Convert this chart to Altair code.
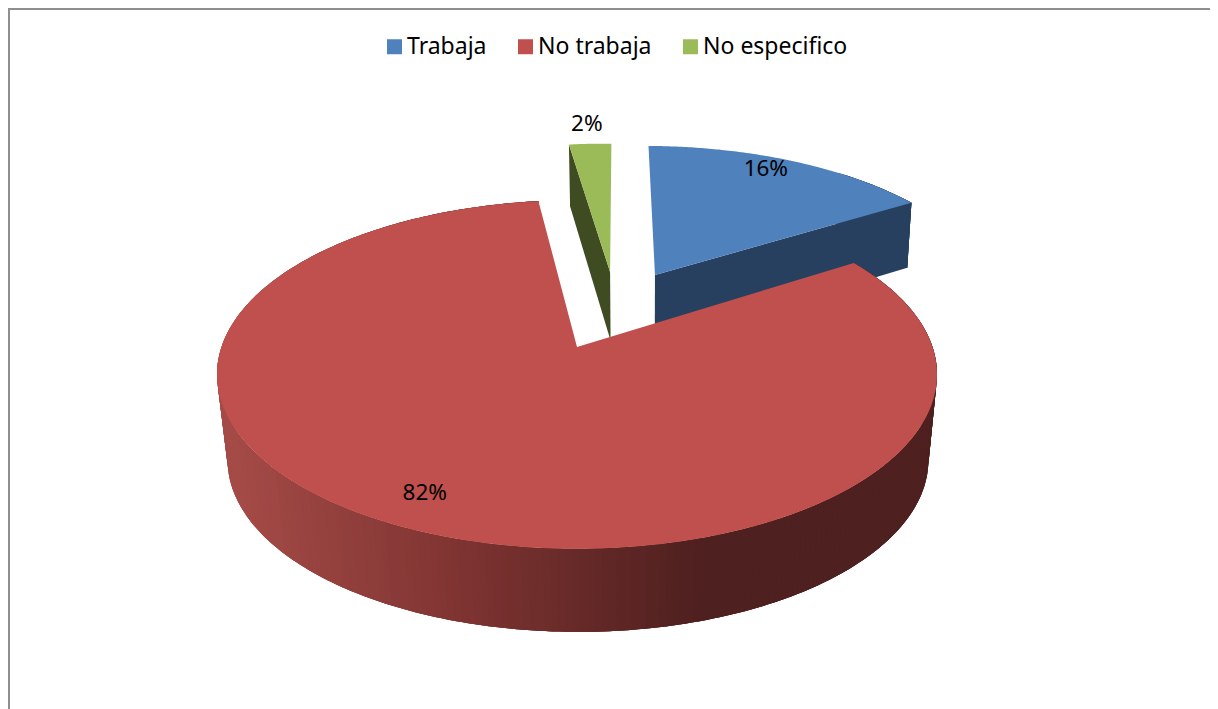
import math
import altair as alt

# ---- chart values ----
categories = ["Trabaja", "No trabaja", "No especifico"]
shares = [16, 82, 2]
labels = ["16%", "82%", "2%"]
top_colors = ["#4F81BD", "#C0504D", "#9BBB59"]
side_colors = ["#27405F", None, "#3F4C22"]
frame_color = "#8F8F8F"

# ---- 3D pie camera (page pixels) ----
CX, CY = 577.0, 347.0
PAGE = 8.0
TOP_K, TOP_B, PERSP = 355.5, 170.0, 0.1575
# explode offset (u, v), rotation (deg), leading-edge extension (deg), bottom plane (k, b, drop),
# first visible rim angle, label radius and label angle shift
slice_geo = {
    "Trabaja": dict(off=(0.235, 0.4537), rot=0.7, ext=0.0, bottom=(350.0, 167.6, 72.5), rim_from=40.0, lab=0.90, lab_deg=-3.0),
    "No trabaja": dict(off=(0.0, 0.0), rot=0.0, ext=0.0, bottom=(346.0, 154.0, 86.0), rim_from=0.0, lab=0.84, lab_deg=1.5),
    "No especifico": dict(off=(0.10, 0.474), rot=1.1, ext=1.25, bottom=(350.0, 167.6, 72.5), rim_from=None, lab=1.19, lab_deg=0.0),
}
shade_stops = [(228, (165, 75, 71)), (465, (125, 51, 49)), (700, (78, 32, 31)), (930, (78, 32, 31))]
BAND = 8
STEP = 1.0      # rim strip width, degrees
OVERLAP = 2.0   # each strip runs under the next one, so no seam shows


def top_pt(u, v):
    d = 1 + PERSP * v
    return [CX + TOP_K * u / d - PAGE, CY - TOP_B * v / d - PAGE]


def bot_pt(u, v, bottom):
    k, b, drop = bottom
    d = 1 + PERSP * v
    return [CX + 1 + k * u / d - PAGE, CY - (b * v - drop) / d - PAGE]


def rim(off, deg):
    a = math.radians(deg)
    return off[0] + math.sin(a), off[1] + math.cos(a)


def shade(x):
    x = round((x + PAGE) / BAND) * BAND
    if x <= shade_stops[0][0]:
        return "#%02x%02x%02x" % shade_stops[0][1]
    for (x0, c0), (x1, c1) in zip(shade_stops, shade_stops[1:]):
        if x <= x1:
            t = (x - x0) / (x1 - x0)
            return "#%02x%02x%02x" % tuple(round(p + (q - p) * t) for p, q in zip(c0, c1))
    return "#%02x%02x%02x" % shade_stops[-1][1]


def poly(points):
    return {"type": "Polygon", "coordinates": [points + [points[0]]]}


top_features, side_features, label_rows = [], [], []
start = 0.0
for cat, share, lab, tc, sc in zip(categories, shares, labels, top_colors, side_colors):
    geo = slice_geo[cat]
    a0 = start * 3.6 + geo["rot"] - geo["ext"]
    a1 = (start + share) * 3.6 + geo["rot"]
    start += share
    off, bottom = geo["off"], geo["bottom"]
    n = max(8, int((a1 - a0) / 0.5))
    degs = [a0 + (a1 - a0) * i / n for i in range(n + 1)]

    # top face
    arc = [top_pt(*rim(off, d)) for d in degs]
    top_features.append({"type": "Feature", "cat": cat, "geometry": poly([top_pt(*off)] + arc)})

    # walls
    if cat == "Trabaja":
        e = rim(off, a1)
        side_features.append({"type": "Feature", "col": sc, "geometry": poly(
            [top_pt(*off), top_pt(*e), bot_pt(*e, bottom), bot_pt(*off, bottom)])})
    if cat == "No especifico":
        e = rim(off, a0)
        side_features.append({"type": "Feature", "col": sc, "geometry": poly(
            [top_pt(*off), top_pt(*e), bot_pt(*e, bottom), bot_pt(*off, bottom)])})

    # outer rim, painted strip over strip
    if geo["rim_from"] is not None:
        d = max(a0, geo["rim_from"])
        while d < a1:
            d1 = min(d + STEP, a1)
            fan = [d + (min(d1 + OVERLAP, a1) - d) * i / 3 for i in range(4)]
            upper = [top_pt(*rim(off, f)) for f in fan]
            lower = [bot_pt(*rim(off, f), bottom) for f in reversed(fan)]
            col = sc if sc else shade((top_pt(*rim(off, d))[0] + top_pt(*rim(off, d1))[0]) / 2)
            side_features.append({"type": "Feature", "col": col, "geometry": poly(upper + lower)})
            d = d1

    # label
    mid = math.radians((a0 + a1) / 2 + geo["lab_deg"])
    lu, lv = off[0] + geo["lab"] * math.sin(mid), off[1] + geo["lab"] * math.cos(mid)
    lx, ly = top_pt(lu, lv)
    label_rows.append({"label": lab, "lx": lx, "ly": ly})

proj = alt.Projection(type="identity", scale=1, translate=[0, 0])

sides = (
    alt.Chart(alt.Data(values=side_features))
    .mark_geoshape(strokeWidth=0)
    .encode(fill=alt.Fill("col:N", scale=None, legend=None))
    .project(**proj.to_dict())
)

tops = (
    alt.Chart(alt.Data(values=top_features))
    .mark_geoshape(strokeWidth=0)
    .encode(
        fill=alt.Fill(
            "cat:N",
            scale=alt.Scale(domain=categories, range=top_colors),
            sort=categories,
            legend=alt.Legend(
                title=None,
                orient="none",
                legendX=375,
                legendY=27,
                direction="horizontal",
                symbolType="square",
                symbolSize=225,
                symbolStrokeWidth=0,
                labelFont="Noto Sans",
                labelFontSize=23,
                labelColor="#000000",
                labelOffset=1,
                columnPadding=27,
                padding=0,
            ),
        )
    )
    .project(**proj.to_dict())
)

text = (
    alt.Chart(alt.Data(values=label_rows))
    .mark_text(font="Noto Sans", fontSize=22.5, color="#000000", align="center", baseline="middle", dy=1)
    .encode(
        x=alt.X("lx:Q", scale=None, axis=None),
        y=alt.Y("ly:Q", scale=None, axis=None),
        text="label:N",
    )
)

frame_left = alt.Chart(alt.Data(values=[{"a": 0}])).mark_rule(color=frame_color, strokeWidth=2).encode(
    x=alt.value(1), y=alt.value(0), y2=alt.value(701)
)
frame_top = alt.Chart(alt.Data(values=[{"a": 0}])).mark_rule(color=frame_color, strokeWidth=2).encode(
    x=alt.value(0), x2=alt.value(1202), y=alt.value(1)
)

chart = (
    alt.layer(sides, tops, text, frame_left, frame_top)
    .resolve_scale(fill="independent")
    .properties(width=1202, height=701, padding=0, autosize=alt.AutoSizeParams(type="none"), background="#FFFFFF")
    .configure_view(stroke=None)
)

chart.save("out.html", embed_options={"renderer": "svg", "actions": False})
